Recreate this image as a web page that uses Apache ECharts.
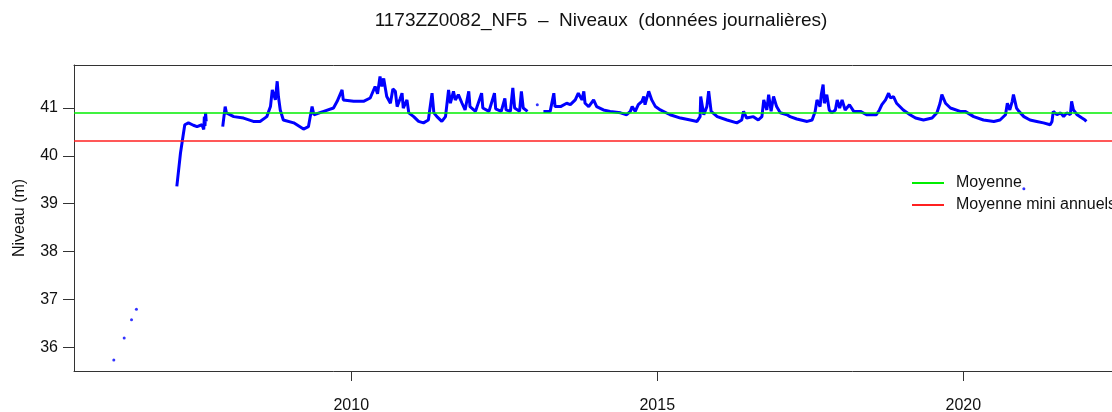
<!DOCTYPE html>
<html>
<head>
<meta charset="utf-8">
<script src="https://cdn.jsdelivr.net/npm/echarts@6/dist/echarts.min.js"></script>
<style>
  html, body { margin: 0; padding: 0; background: #fff; }
  #chart { width: 1112px; height: 412px; }
</style>
</head>
<body>
<div id="chart"></div>
<script>
// dates en années décimales, niveaux en m ('-' = lacune)
const temps = [
  2007.15, 2007.21, 2007.25, 2007.28, 2007.34, 2007.42, 2007.48, 2007.56, 2007.59, 2007.60, 2007.61, 2007.62, 2007.63,
  2007.75,
  2007.90, 2007.94, 2007.96, 2008.08, 2008.24, 2008.40, 2008.51, 2008.62, 2008.68, 2008.71, 2008.76, 2008.79, 2008.81,
  2008.84, 2008.89, 2009.06, 2009.22, 2009.30, 2009.36, 2009.39, 2009.55, 2009.71, 2009.77, 2009.85, 2009.87,
  2010.04, 2010.20, 2010.31, 2010.39, 2010.43, 2010.47, 2010.50, 2010.53, 2010.56, 2010.58, 2010.64, 2010.68,
  2010.72, 2010.75, 2010.80, 2010.83, 2010.85, 2010.91, 2010.94, 2011.02, 2011.10, 2011.18, 2011.26, 2011.32,
  2011.35, 2011.40, 2011.48, 2011.54, 2011.59, 2011.62, 2011.67, 2011.70, 2011.75, 2011.81, 2011.86, 2011.92,
  2011.94, 2012.03, 2012.13, 2012.15, 2012.25, 2012.34, 2012.36, 2012.45, 2012.51, 2012.53, 2012.60, 2012.64,
  2012.67, 2012.75, 2012.78, 2012.81, 2012.88,
  2013.00,
  2013.14, 2013.25, 2013.31, 2013.33, 2013.42, 2013.52, 2013.58, 2013.66, 2013.71, 2013.77, 2013.80, 2013.82,
  2013.88, 2013.96, 2014.01, 2014.12, 2014.23, 2014.40, 2014.50, 2014.56, 2014.59, 2014.64, 2014.69, 2014.75,
  2014.78, 2014.80, 2014.86, 2014.89, 2014.91, 2014.97, 2015.05, 2015.21, 2015.38, 2015.54, 2015.65, 2015.70,
  2015.71, 2015.76, 2015.81, 2015.84, 2015.88, 2015.98, 2016.14, 2016.30, 2016.38, 2016.41, 2016.46, 2016.57,
  2016.65, 2016.71, 2016.74, 2016.79, 2016.82, 2016.86, 2016.90, 2016.92, 2016.95, 2017.01, 2017.12, 2017.17,
  2017.28, 2017.45, 2017.53, 2017.58, 2017.61, 2017.66, 2017.68, 2017.71, 2017.73, 2017.77, 2017.81, 2017.85,
  2017.91, 2017.94, 2017.98, 2018.02, 2018.07, 2018.14, 2018.21, 2018.32, 2018.42, 2018.58, 2018.63, 2018.67,
  2018.73, 2018.78, 2018.81, 2018.86, 2018.91, 2019.02, 2019.13, 2019.22, 2019.35, 2019.49, 2019.57, 2019.62,
  2019.65, 2019.71, 2019.79, 2019.95, 2020.03, 2020.17, 2020.33, 2020.50, 2020.60, 2020.69, 2020.72, 2020.76,
  2020.80, 2020.82, 2020.87, 2020.91, 2020.99, 2021.09, 2021.20, 2021.31, 2021.42, 2021.45, 2021.47, 2021.53,
  2021.59, 2021.64, 2021.69, 2021.75, 2021.77, 2021.80, 2021.86, 2021.94, 2021.99, 2022.01
];
const niveau = [
  39.36, 40.06, 40.40, 40.65, 40.69, 40.64, 40.61, 40.65, 40.55, 40.82, 40.62, 40.90, 40.72,
  '-',
  40.61, 41.03, 40.90, 40.82, 40.79, 40.72, 40.72, 40.82, 41.03, 41.38, 41.17, 41.56, 41.24,
  40.96, 40.75, 40.69, 40.56, 40.61, 41.03, 40.86, 40.93, 41.00, 41.14, 41.38, 41.17,
  41.14, 41.14, 41.21, 41.45, 41.30, 41.66, 41.45, 41.62, 41.59, 41.24, 41.10, 41.40,
  41.35, 41.03, 41.20, 41.31, 41.00, 41.17, 40.90, 40.82, 40.72, 40.69, 40.75, 41.31,
  40.90, 40.82, 40.72, 40.82, 41.38, 41.10, 41.35, 41.17, 41.28, 41.10, 40.96, 41.35,
  41.03, 40.93, 41.31, 41.00, 40.93, 41.31, 40.98, 40.93, 41.20, 40.96, 40.93, 41.42,
  41.00, 40.93, 41.35, 41.00, 40.93,
  '-',
  40.93, 40.93, 41.31, 41.03, 41.03, 41.10, 41.07, 41.17, 41.31, 41.17, 41.35, 41.10,
  41.03, 41.17, 41.03, 40.96, 40.93, 40.90, 40.86, 40.93, 41.03, 40.93, 41.07, 41.14,
  41.24, 41.07, 41.35, 41.38, 41.17, 41.03, 40.96, 40.86, 40.79, 40.75, 40.72, 40.82,
  41.24, 40.86, 41.03, 41.35, 40.93, 40.82, 40.75, 40.69, 40.75, 40.93, 40.79, 40.82,
  40.75, 40.82, 41.17, 40.96, 41.28, 40.93, 41.24, 41.26, 41.03, 40.90, 40.86, 40.82,
  40.77, 40.72, 40.75, 40.93, 41.17, 41.03, 41.28, 41.49, 41.10, 41.28, 40.96, 40.90,
  40.96, 41.17, 41.00, 41.17, 40.96, 41.07, 40.93, 40.93, 40.86, 40.86, 40.96, 41.07,
  41.17, 41.31, 41.21, 41.24, 41.10, 40.96, 40.86, 40.79, 40.75, 40.79, 40.90, 41.10,
  41.28, 41.10, 41.00, 40.93, 40.93, 40.82, 40.75, 40.72, 40.75, 40.86, 41.10, 40.96,
  41.14, 41.28, 41.00, 40.93, 40.82, 40.75, 40.72, 40.69, 40.65, 40.72, 40.93, 40.86,
  40.90, 40.82, 40.90, 40.86, 41.14, 40.96, 40.86, 40.79, 40.75, 40.72
];
// mesures isolées
const tempsIsoles = [2006.12, 2006.29, 2006.41, 2006.49, 2013.04, 2020.99];
const niveauIsoles = [35.73, 36.19, 36.57, 36.79, 41.07, 39.31];

const MOYENNE = 40.895;
const MOYENNE_MINI = 40.32;

const ticksX = [2010, 2015, 2020];
const ticksY = [36, 37, 38, 39, 40, 41];

const police = "'Liberation Sans', Arial, sans-serif";

const initChart = () => {
  const chart = echarts.init(document.getElementById('chart'));
  const option = {
    animation: false,
    textStyle: { fontFamily: police },
    graphic: [{
      type: 'text',
      x: 601, y: 21,
      style: {
        text: '1173ZZ0082_NF5  \u2013  Niveaux  (données journalières)',
        font: '19px ' + police,
        fill: '#111',
        textAlign: 'center',
        textVerticalAlign: 'middle'
      }
    }],
    legend: {
      orient: 'vertical',
      left: 907,
      top: 170,
      itemWidth: 32,
      itemHeight: 2,
      itemGap: 6,
      textStyle: { fontSize: 16, color: '#111', lineHeight: 16, padding: [0, 0, 0, 7] },
      data: [
        { name: 'Moyenne', icon: 'rect' },
        { name: 'Moyenne mini annuels', icon: 'rect' }
      ]
    },
    grid: { left: 74, right: 0, top: 65, bottom: 41, outerBoundsMode: 'none', containLabel: false },
    xAxis: [{
      type: 'value',
      min: 2005.47,
      max: 2022.43,
      axisLine: { show: true, lineStyle: { color: '#333', width: 1 } },
      axisTick: { show: true, length: 10, lineStyle: { color: '#333' }, customValues: ticksX },
      axisLabel: { fontSize: 16, color: '#111', margin: 27, customValues: ticksX, formatter: v => String(v) },
      splitLine: { show: false }
    }, {
      type: 'value',
      position: 'top',
      min: 2005.47,
      max: 2022.43,
      axisLine: { show: true, lineStyle: { color: '#333', width: 1 } },
      axisTick: { show: false },
      axisLabel: { show: false },
      splitLine: { show: false }
    }],
    yAxis: {
      type: 'value',
      min: 35.5,
      max: 41.9,
      name: 'Niveau (m)',
      nameLocation: 'middle',
      nameGap: 46,
      nameMoveOverlap: false,
      nameTextStyle: { fontSize: 16, color: '#111' },
      axisLine: { show: true, lineStyle: { color: '#333', width: 1 } },
      axisTick: { show: true, length: 11, lineStyle: { color: '#333' }, customValues: ticksY },
      axisLabel: { fontSize: 16, color: '#111', margin: 16, customValues: ticksY },
      splitLine: { show: false }
    },
    series: [
      {
        name: 'Niveaux',
        type: 'line',
        data: temps.map((t, i) => [t, niveau[i]]),
        showSymbol: false,
        connectNulls: false,
        lineStyle: { color: '#0000ff', width: 3 },
        itemStyle: { color: '#0000ff' },
        z: 2
      },
      {
        name: 'Isolés',
        type: 'scatter',
        data: tempsIsoles.map((t, i) => [t, niveauIsoles[i]]),
        symbolSize: 3,
        itemStyle: { color: '#0000ff' },
        z: 2
      },
      {
        name: 'Moyenne',
        type: 'line',
        data: [],
        itemStyle: { color: '#00ee00' },
        lineStyle: { color: '#00ee00' },
        markLine: {
          silent: true,
          symbol: ['none', 'none'],
          label: { show: false },
          lineStyle: { color: '#00ee00', width: 1.5, type: 'solid' },
          data: [{ yAxis: MOYENNE }]
        },
        z: 3
      },
      {
        name: 'Moyenne mini annuels',
        type: 'line',
        data: [],
        itemStyle: { color: '#ff2020' },
        lineStyle: { color: '#ff2020' },
        markLine: {
          silent: true,
          symbol: ['none', 'none'],
          label: { show: false },
          lineStyle: { color: '#ff2020', width: 1.5, type: 'solid' },
          data: [{ yAxis: MOYENNE_MINI }]
        },
        z: 3
      }
    ]
  };
  chart.setOption(option);
};
initChart();
</script>
</body>
</html>
